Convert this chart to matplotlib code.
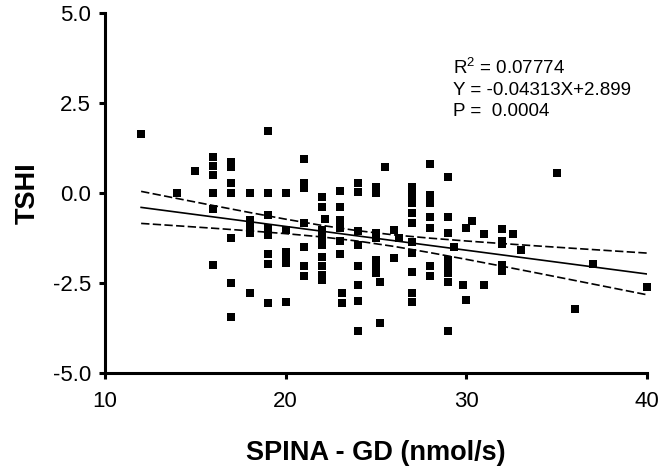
import matplotlib
matplotlib.use("Agg")
import matplotlib.pyplot as plt
import numpy as np

plt.rcParams['font.family'] = ['Liberation Sans', 'DejaVu Sans']
plt.rcParams['mathtext.fontset'] = 'custom'
plt.rcParams['mathtext.rm'] = 'Liberation Sans'
plt.rcParams['mathtext.it'] = 'Liberation Sans:italic'
plt.rcParams['mathtext.bf'] = 'Liberation Sans:bold'

# Scatter data (SPINA-GD, TSHI)
pts = [
    (12, 1.63), (14, 0.0), (15, 0.62),
    (16, 1.0), (16, 0.75), (16, 0.5), (16, 0.0), (16, -0.45), (16, -2.0),
    (17, 0.87), (17, 0.73), (17, 0.27), (17, 0.0), (17, -1.24), (17, -2.49), (17, -3.44),
    (18, 0.0), (18, -0.75), (18, -0.94), (18, -1.12), (18, -2.77),
    (19, 1.72), (19, 0.0), (19, -0.61), (19, -0.98), (19, -1.17), (19, -1.69), (19, -1.97), (19, -3.05),
    (20, 0.0), (20, -1.03), (20, -1.63), (20, -1.81), (20, -1.95), (20, -3.02),
    (21, 0.94), (21, 0.27), (21, 0.13), (21, -0.84), (21, -1.49), (21, -2.02), (21, -2.31),
    (22, -0.12), (22, -0.38), (22, -1.03), (22, -1.21), (22, -1.44), (22, -1.77), (22, -2.02),
    (22, -2.28), (22, -2.42), (22.2, -0.73),
    (23, 0.06), (23, -0.38), (23, -0.75), (23, -0.98), (23, -1.33), (23, -1.69),
    (23.1, -2.79), (23.1, -3.05),
    (24, 0.27), (24, 0.04), (24, -1.06), (24, -1.44), (24, -2.02), (24, -2.56), (24, -3.0), (24, -3.82),
    (25, 0.18), (25, 0.0), (25, -1.12), (25, -1.26), (25, -1.86), (25, -2.05), (25, -2.23),
    (25.2, -2.46), (25.2, -3.6), (25.5, 0.73),
    (26, -1.03), (26, -1.80), (26.3, -1.24),
    (27, 0.16), (27, -0.06), (27, -0.29), (27, -0.56), (27, -0.84), (27, -1.35), (27, -1.68),
    (27, -2.20), (27, -2.79), (27, -3.02),
    (28, 0.8), (28, -0.06), (28, -0.29), (28, -0.66), (28, -0.96), (28, -2.02), (28, -2.31),
    (29, 0.45), (29, -0.66), (29, -1.12), (29, -1.86), (29, -2.05), (29, -2.23), (29, -2.46), (29, -3.82),
    (29.3, -1.49), (29.8, -2.56),
    (30, -0.98), (30, -2.97), (30.3, -0.78),
    (31, -1.15), (31, -2.56),
    (32, -1.0), (32, -1.33), (32, -1.42), (32, -2.0), (32, -2.17),
    (32.6, -1.15), (33, -1.58), (35, 0.56), (36, -3.21), (37, -1.98), (40, -2.62),
]
spina_gd = [p[0] for p in pts]
tshi = [p[1] for p in pts]

# Regression line and 95% confidence band
fit_x = [12, 40]
fit_y = [-0.40, -2.25]
band_x = [12, 14, 16, 18, 20, 22, 24, 26, 28, 30, 32, 34, 36, 38, 40]
band_upper = [0.045, -0.153, -0.349, -0.541, -0.727, -0.90, -1.048, -1.164, -1.255,
              -1.333, -1.405, -1.473, -1.539, -1.604, -1.669]
band_lower = [-0.845, -0.911, -0.979, -1.051, -1.129, -1.22, -1.336, -1.484, -1.657,
              -1.843, -2.035, -2.231, -2.429, -2.628, -2.827]

x_ticks = [10, 20, 30, 40]
y_ticks = [-5.0, -2.5, 0.0, 2.5, 5.0]
annot = ["R$^{2}$ = 0.07774", "Y = -0.04313X+2.899", "P =  0.0004"]

fig = plt.figure(figsize=(6.61, 4.74), dpi=100)
ax = fig.add_axes([105/661, 1-373/474, (647-105)/661, (373-13)/474])

ax.plot(spina_gd, tshi, 's', color='black', markersize=6.2, markeredgewidth=0, clip_on=False)
ax.plot(fit_x, fit_y, '-', color='black', lw=1.2)
ax.plot(band_x, band_upper, color='black', lw=1.2, dashes=(5, 2))
ax.plot(band_x, band_lower, color='black', lw=1.2, dashes=(5, 2))

ax.set_xlim(10, 40)
ax.set_ylim(-5, 5)
ax.set_xticks(x_ticks)
ax.set_yticks(y_ticks)
ax.set_yticklabels([f"{v:.1f}" for v in y_ticks])
for s in ['top', 'right']:
    ax.spines[s].set_visible(False)
for s in ['left', 'bottom']:
    ax.spines[s].set_linewidth(2.2)
ax.tick_params(axis='both', width=2.2, length=4, labelsize=16)
ax.tick_params(axis='x', pad=9)
ax.tick_params(axis='y', pad=6)

ax.set_xlabel("SPINA - GD (nmol/s)", fontsize=19.5, fontweight='bold', labelpad=20)
ax.set_ylabel("TSHI", fontsize=19.5, fontweight='bold', labelpad=9)

for i, t in enumerate(annot):
    ax.text(29.26, 3.47 - i * 0.61, t, fontsize=13.5, va='center', ha='left')

fig.savefig("out.png", dpi=100)
